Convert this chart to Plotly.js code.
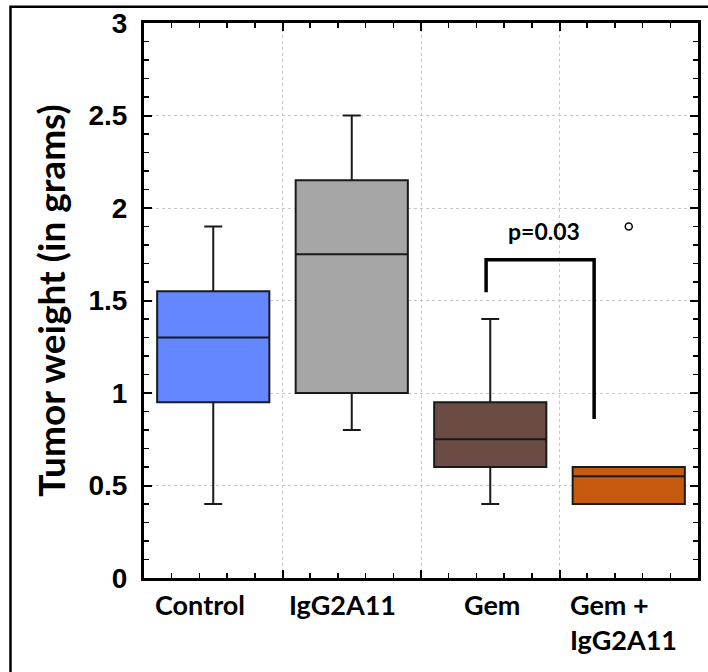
<!DOCTYPE html>
<html>
<head>
<meta charset="utf-8">
<script src="https://cdn.plot.ly/plotly-3.0.1.min.js"></script>
<style>html,body{margin:0;padding:0;background:#fff;}#chart{width:708px;height:672px;}</style>
</head>
<body>
<div id="chart"></div>
<script>
// ---- data ----
const categories = ["Control", "IgG2A11", "Gem", "Gem +<br>IgG2A11"];
const positions = [0, 1, 2, 3];
const lowerFence = [0.4, 0.8, 0.4, 0.4];
const q1 = [0.95, 1.0, 0.6, 0.4];
const median = [1.3, 1.75, 0.75, 0.55];
const q3 = [1.55, 2.15, 0.95, 0.6];
const upperFence = [1.9, 2.5, 1.4, 0.6];
const colors = ["#6287fe", "#a6a6a6", "#6b4c44", "#c65b10"];
const outlierX = [3];
const outlierY = [1.9];
const bracketX = [1.97, 1.97, 2.75, 2.75];
const bracketY = [1.545, 1.72, 1.72, 0.86];
const pLabel = "p=0.03";
const pLabelPos = [2.39, 1.876];
const yTicks = [0, 0.5, 1, 1.5, 2, 2.5, 3];
const boundaries = [0.5, 1.5, 2.5];

// label placement tweaks (pixels) to mimic the original's hand-placed labels
const labelShift = [-13, -9, 2, -5];
const labelAlign = ["center", "center", "center", "left"];

const traces = positions.map((p, i) => ({
  type: "box",
  x: [p],
  q1: [q1[i]], median: [median[i]], q3: [q3[i]],
  lowerfence: [lowerFence[i]], upperfence: [upperFence[i]],
  width: 0.81,
  whiskerwidth: 0.16,
  fillcolor: colors[i],
  line: {color: "#1a1a1a", width: 2},
  boxpoints: false,
  hoverinfo: "skip",
  showlegend: false
}));

traces.push({
  type: "scatter", mode: "lines",
  x: bracketX, y: bracketY,
  line: {color: "#000", width: 3.5},
  hoverinfo: "skip", showlegend: false
});

traces.push({
  type: "scatter", mode: "markers",
  x: outlierX, y: outlierY,
  marker: {symbol: "circle-open", size: 7, color: "#000", line: {width: 1.5, color: "#000"}},
  hoverinfo: "skip", showlegend: false
});

const gridStyle = {gridcolor: "#c8c8c8", gridwidth: 1, griddash: "dot"};
const labelFont = {family: "Lato, 'Open Sans', sans-serif", size: 27, color: "#000", weight: "bold"};

const annotations = categories.map((c, i) => ({
  xref: "x", yref: "paper", x: positions[i], y: 0,
  xanchor: "center", yanchor: "top", yshift: -8, xshift: labelShift[i],
  align: labelAlign[i],
  text: c, showarrow: false, font: labelFont
}));
annotations.push({
  xref: "x", yref: "y", x: pLabelPos[0], y: pLabelPos[1],
  text: pLabel, showarrow: false,
  font: {family: "Lato, 'Open Sans', sans-serif", size: 23, color: "#000", weight: "bold"}
});

const layout = {
  width: 708, height: 672,
  margin: {l: 144, r: 10, t: 23, b: 94},
  paper_bgcolor: "#fff", plot_bgcolor: "#fff",
  showlegend: false,
  xaxis: Object.assign({
    type: "linear",
    range: [-0.5, 3.5],
    tickmode: "array", tickvals: boundaries,
    showticklabels: false,
    ticks: "inside", ticklen: 8, tickwidth: 2, tickcolor: "#000",
    showgrid: true,
    showline: true, linecolor: "#000", linewidth: 3, mirror: "allticks",
    zeroline: false,
    minor: {tick0: -0.5, dtick: 0.2, ticks: "inside", ticklen: 5, tickwidth: 1.5, tickcolor: "#000", showgrid: false}
  }, gridStyle),
  yaxis: Object.assign({
    range: [0, 3],
    tickmode: "array", tickvals: yTicks,
    ticktext: yTicks.map(String),
    ticks: "inside", ticklen: 8, tickwidth: 2, tickcolor: "#000",
    showgrid: true,
    showline: true, linecolor: "#000", linewidth: 3, mirror: "allticks",
    zeroline: false,
    ticklabelstandoff: 8,
    tickfont: {family: "'Liberation Sans', Arial, sans-serif", size: 28, color: "#000", weight: "bold"},
    minor: {dtick: 0.1, ticks: "inside", ticklen: 5, tickwidth: 1.5, tickcolor: "#000", showgrid: false},
    title: {text: "Tumor weight (in grams)", standoff: 12,
      font: {family: "Lato, 'Open Sans', sans-serif", size: 37, color: "#000", weight: "bold"}}
  }, gridStyle),
  annotations: annotations,
  shapes: [{
    type: "rect", xref: "paper", yref: "paper",
    x0: -0.241, x1: 1.2, y0: -0.3, y1: 1.0295,
    line: {color: "#000", width: 2.5}, fillcolor: "rgba(0,0,0,0)", layer: "above"
  }]
};

Plotly.newPlot("chart", traces, layout, {displayModeBar: false, staticPlot: true});
</script>
</body>
</html>
